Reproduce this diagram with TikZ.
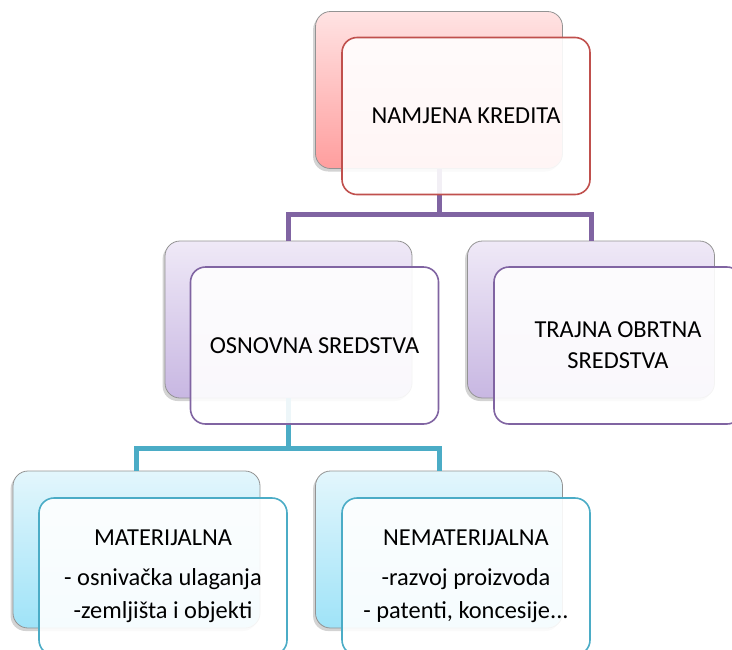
\documentclass[tikz,border=0pt]{standalone}
\usepackage{fontspec}
\setmainfont{Carlito}
\usetikzlibrary{calc,shadows}
\definecolor{kred}{HTML}{C0504D}
\definecolor{ljub}{HTML}{8064A2}
\definecolor{tirk}{HTML}{4BACC6}
\definecolor{kredA}{HTML}{FFE3E3}
\definecolor{kredB}{HTML}{FF9E9E}
\definecolor{ljubA}{HTML}{EFE9F7}
\definecolor{ljubB}{HTML}{C8B7E2}
\definecolor{tirkA}{HTML}{E3F6FC}
\definecolor{tirkB}{HTML}{9FE3F8}

\begin{document}
\begin{tikzpicture}[x=0.5pt,y=-0.5pt,
    backbox/.style 2 args={draw=gray!85, rounded corners=7.5pt, top color=#1, bottom color=#2,
      minimum width=123.5pt, minimum height=78.5pt, inner sep=0pt, outer sep=0pt,
      drop shadow={shadow xshift=-1.2pt, shadow yshift=-1.5pt, opacity=0.35}},
    frontbox/.style={draw=#1, line width=0.8pt, rounded corners=7.5pt, fill=white,
      fill opacity=0.9, text opacity=1, minimum width=124pt, minimum height=78.5pt,
      inner sep=0pt, align=center, font=\fontsize{12.2}{16.5}\selectfont},
    link/.style={draw=#1, line width=2.5pt}]
  \useasboundingbox (0,0) rectangle (732,649);
  \clip (0,0) rectangle (732,649);
  % back boxes
  \node[backbox={kredA}{kredB}] (kred) at (439,90) {};
  \node[backbox={ljubA}{ljubB}] (osn) at (288.5,319.5) {};
  \node[backbox={ljubA}{ljubB}] (tro) at (591,319.5) {};
  \node[backbox={tirkA}{tirkB}] (mat) at (136.5,549.5) {};
  \node[backbox={tirkA}{tirkB}] (nem) at (439,549.5) {};
  % connectors
  \draw[link=ljub] (osn.north) -- ++(0,-27) -| (tro.north);
  \draw[link=ljub] (kred.south) -- ++(0,46);
  \draw[link=tirk] (mat.north) -- ++(0,-23) -| (nem.north);
  \draw[link=tirk] (osn.south) -- ++(0,50);
  % front boxes
  \node[frontbox=kred] (kredF) at ($(kred)+(27,26)$) {NAMJENA KREDITA};
  \node[frontbox=ljub] (osnF) at ($(osn)+(26,26)$) {OSNOVNA SREDSTVA};
  \node[frontbox=ljub] (troF) at ($(tro)+(27,26)$) {TRAJNA OBRTNA\\[-1pt]SREDSTVA};
  \node[frontbox=tirk] (matF) at ($(mat)+(26.5,27)$)
    {MATERIJALNA\\[3.5pt]- osnivačka ulaganja\\-zemljišta i objekti};
  \node[frontbox=tirk] (nemF) at ($(nem)+(27,27)$)
    {NEMATERIJALNA\\[3.5pt]-razvoj proizvoda\\- patenti, koncesije...};
\end{tikzpicture}
\end{document}
